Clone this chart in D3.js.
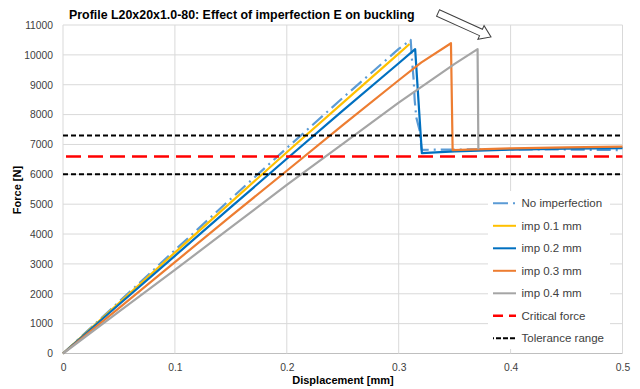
<!DOCTYPE html>
<html><head><meta charset="utf-8">
<script src="https://cdn.jsdelivr.net/npm/d3@7"></script>
<style>
body{margin:0;background:#fff;}
text{font-family:"Liberation Sans",Arial,sans-serif;}
</style></head>
<body><svg id="c" width="640" height="389"></svg>
<script>
// ---- data ----
const xTicks = [0, 0.1, 0.2, 0.3, 0.4, 0.5];
const yTicks = [0,1000,2000,3000,4000,5000,6000,7000,8000,9000,10000,11000];
const seriesNames = ["No imperfection","imp 0.1 mm","imp 0.2 mm","imp 0.3 mm","imp 0.4 mm","Critical force","Tolerance range"];

const noImpX = [0,0.05,0.1,0.15,0.2,0.25,0.3,0.3107,0.3119,0.3134,0.3143,0.3157,0.3187,0.3205,0.35,0.4,0.45,0.5];
const noImpF = [0,1730,3460,5180,6880,8560,10200,10500,9820,9150,8480,7910,7470,6820,6830,6840,6830,6810];
const imp01X = [0,0.05,0.1,0.15,0.2,0.25,0.3,0.3097];
const imp01F = [0,1690,3380,5060,6740,8390,10040,10365];
const imp02X = [0,0.05,0.1,0.15,0.2,0.25,0.3,0.3147,0.3207,0.35,0.4,0.45,0.5];
const imp02F = [0,1640,3270,4900,6520,8130,9720,10190,6710,6770,6830,6860,6880];
const imp03X = [0,0.05,0.1,0.15,0.2,0.25,0.3,0.32,0.3467,0.3482,0.4,0.45,0.5];
const imp03F = [0,1520,3060,4600,6120,7650,9150,9740,10390,6810,6870,6900,6930];
const imp04X = [0,0.05,0.1,0.15,0.2,0.25,0.3,0.35,0.3705,0.3712];
const imp04F = [0,1400,2800,4220,5650,7020,8400,9700,10190,6840];
const criticalForce = [6600];
const toleranceRange = [7300, 6000];

// ---- layout ----
const svg = d3.select("#c");
const x = d3.scaleLinear().domain([0,0.5]).range([63,622.5]);
const y = d3.scaleLinear().domain([0,11000]).range([353.5,25]);

// gridlines
svg.append("g").selectAll("line").data(yTicks).join("line")
  .attr("x1",x(0)).attr("x2",x(0.5)).attr("y1",d=>y(d)).attr("y2",d=>y(d))
  .attr("stroke",d=>d===0?"#bfbfbf":"#d9d9d9").attr("stroke-width",1);
svg.append("g").selectAll("line").data(xTicks).join("line")
  .attr("y1",y(0)).attr("y2",y(11000)).attr("x1",d=>x(d)).attr("x2",d=>x(d))
  .attr("stroke","#d9d9d9").attr("stroke-width",1);

// axes labels
const ya = svg.append("g").attr("transform",`translate(${x(0)},0)`)
  .call(d3.axisLeft(y).tickValues(yTicks).tickSize(0).tickPadding(10).tickFormat(d3.format("d")));
ya.select(".domain").remove();
ya.selectAll("text").attr("font-size",10.3).attr("fill","#404040").style("font-family","Liberation Sans, Arial");
const xa = svg.append("g").attr("transform",`translate(0,${y(0)})`)
  .call(d3.axisBottom(x).tickValues(xTicks).tickSize(0).tickPadding(10).tickFormat(d=>d===0?"0":d3.format(".1f")(d)));
xa.select(".domain").remove();
xa.selectAll("text").attr("font-size",10.3).attr("fill","#404040").style("font-family","Liberation Sans, Arial");

// series
const line = d3.line().x(d=>x(d[0])).y(d=>y(d[1]));
const zip = (a,b)=>a.map((v,i)=>[v,b[i]]);
const series = [
  {name:seriesNames[0], pts:zip(noImpX,noImpF), color:"#5b9bd5", dash:"14,5,2,5", w:2.2},
  {name:seriesNames[1], pts:zip(imp01X,imp01F), color:"#ffc000", dash:null, w:2.2},
  {name:seriesNames[2], pts:zip(imp02X,imp02F), color:"#0070c0", dash:null, w:2.2},
  {name:seriesNames[3], pts:zip(imp03X,imp03F), color:"#ed7d31", dash:null, w:2.2},
  {name:seriesNames[4], pts:zip(imp04X,imp04F), color:"#a5a5a5", dash:null, w:2.2}
];
series.forEach(s=>{
  svg.append("path").attr("d",line(s.pts)).attr("fill","none")
    .attr("stroke",s.color).attr("stroke-width",s.w)
    .attr("stroke-dasharray",s.dash).attr("stroke-linejoin","round");
});
// horizontal reference lines
criticalForce.forEach(f=>{
  svg.append("line").attr("x1",x(0)).attr("x2",x(0.5)).attr("y1",y(f)).attr("y2",y(f))
    .attr("stroke","#ff0000").attr("stroke-width",2.5).attr("stroke-dasharray","15,7").attr("stroke-dashoffset",-3);
});
toleranceRange.forEach(f=>{
  svg.append("line").attr("x1",x(0)).attr("x2",x(0.5)).attr("y1",y(f)).attr("y2",y(f))
    .attr("stroke","#000").attr("stroke-width",2).attr("stroke-dasharray","5,3");
});

// title
svg.append("text").attr("x",69).attr("y",19).attr("font-size",12.4).attr("font-weight","bold")
  .attr("fill","#000").text("Profile L20x20x1.0-80: Effect of imperfection E on buckling");

// arrow
const ax0=438, ay0=13, ax1=491, ay1=37;
const ang = Math.atan2(ay1-ay0, ax1-ax0)*180/Math.PI;
const L = Math.hypot(ax1-ax0, ay1-ay0);
svg.append("polygon")
  .attr("points",[[0,-3.5],[L-11,-3.5],[L-11,-7.5],[L,0],[L-11,7.5],[L-11,3.5],[0,3.5]].map(p=>p.join(",")).join(" "))
  .attr("transform",`translate(${ax0},${ay0}) rotate(${ang})`)
  .attr("fill","#fff").attr("stroke","#404040").attr("stroke-width",1);

// axis titles
svg.append("text").attr("x",343).attr("y",384).attr("text-anchor","middle")
  .attr("font-size",11).attr("font-weight","bold").attr("fill","#000").text("Displacement [mm]");
svg.append("text").attr("transform","translate(21,190) rotate(-90)").attr("text-anchor","middle")
  .attr("font-size",11).attr("font-weight","bold").attr("fill","#000").text("Force [N]");

// legend
const lg = svg.append("g");
lg.append("rect").attr("x",488).attr("y",191).attr("width",122).attr("height",158).attr("fill","#fff");
const legendItems = [
  {name:seriesNames[0], color:"#5b9bd5", dash:"15,5,2,5", w:2},
  {name:seriesNames[1], color:"#ffc000", dash:null, w:2},
  {name:seriesNames[2], color:"#0070c0", dash:null, w:2},
  {name:seriesNames[3], color:"#ed7d31", dash:null, w:2},
  {name:seriesNames[4], color:"#a5a5a5", dash:null, w:2},
  {name:seriesNames[5], color:"#ff0000", dash:"15,6", w:2.5, off:-16},
  {name:seriesNames[6], color:"#000", dash:"5,2", w:2, off:-3}
];
legendItems.forEach((it,i)=>{
  const yy = 203.3 + i*22.5;
  lg.append("line").attr("x1",493).attr("x2",516).attr("y1",yy).attr("y2",yy)
    .attr("stroke",it.color).attr("stroke-width",it.w).attr("stroke-dasharray",it.dash)
    .attr("stroke-dashoffset",it.off||0);
  lg.append("text").attr("x",521.5).attr("y",yy).attr("dy","0.35em")
    .attr("font-size",11.5).attr("fill","#404040").text(it.name);
});
</script></body></html>
